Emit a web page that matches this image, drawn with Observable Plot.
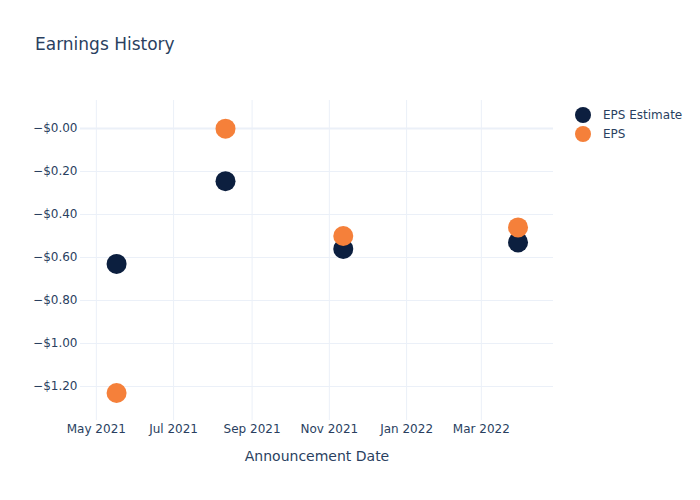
<!DOCTYPE html>
<html><head><meta charset="utf-8">
<script src="https://cdn.jsdelivr.net/npm/d3@7"></script>
<script src="https://cdn.jsdelivr.net/npm/@observablehq/plot@0.6"></script>
<style>
body{margin:0;background:#fff;font-family:"DejaVu Sans",sans-serif;}
#wrap{position:relative;width:700px;height:500px;overflow:hidden;}
#chart{position:absolute;left:0;top:0;}
#chart svg text{fill:#2a3f5f;}
#title{position:absolute;left:35px;top:36px;font-size:17px;line-height:17px;color:#2a3f5f;white-space:nowrap;}
.lg{position:absolute;left:574px;height:18px;line-height:18px;font-size:12px;color:#2a3f5f;white-space:nowrap;}
.lg svg{vertical-align:top;margin-right:11px;}
</style></head><body>
<div id="wrap"><div id="chart"></div><div id="title">Earnings History</div><div id="legend"></div></div>
<script>
const dates = ["2021-05-17","2021-08-11","2021-11-12","2022-03-30"];
const epsEstimate = [-0.63, -0.245, -0.56, -0.53];
const epsActual = [-1.23, -0.001, -0.50, -0.46];
const seriesNames = ["EPS Estimate", "EPS"];
const seriesColors = ["#0c1f3f", "#f5803a"];
const yTicks = [0, -0.2, -0.4, -0.6, -0.8, -1.0, -1.2];
const yTickLabels = ["−$0.00", "−$0.20", "−$0.40", "−$0.60", "−$0.80", "−$1.00", "−$1.20"];
const xTicks = ["2021-05-01", "2021-07-01", "2021-09-01", "2021-11-01", "2022-01-01", "2022-03-01"];
const xTickLabels = ["May 2021", "Jul 2021", "Sep 2021", "Nov 2021", "Jan 2022", "Mar 2022"];

const rows = [];
dates.forEach((d, i) => rows.push({date: new Date(d), value: epsEstimate[i], series: seriesNames[0]}));
dates.forEach((d, i) => rows.push({date: new Date(d), value: epsActual[i], series: seriesNames[1]}));
const xTickDates = xTicks.map(d => new Date(d));
const grid = "#ebf0f8";
const ink = "#2a3f5f";

const chart = Plot.plot({
  width: 700, height: 500,
  marginLeft: 80, marginRight: 147, marginTop: 100, marginBottom: 80,
  style: {fontFamily: "DejaVu Sans, sans-serif", fontSize: "12px", color: ink, background: "white"},
  x: {type: "utc", domain: [new Date("2021-04-18T12:00:00Z"), new Date("2022-04-27T00:00:00Z")]},
  y: {domain: [-1.358, 0.130]},
  color: {domain: seriesNames, range: seriesColors},
  marks: [
    Plot.gridX(xTickDates, {stroke: grid, strokeOpacity: 1, strokeWidth: 1}),
    Plot.gridY(yTicks, {stroke: grid, strokeOpacity: 1, strokeWidth: 1}),
    Plot.ruleY([0], {stroke: grid, strokeWidth: 2}),
    Plot.axisX(xTickDates, {tickSize: 0, tickPadding: 4, fontSize: 12, fill: ink,
      tickFormat: (d) => xTickLabels[xTickDates.findIndex(t => +t === +d)],
      label: "Announcement Date", labelAnchor: "center", labelArrow: "none", labelOffset: 40}),
    Plot.axisY(yTicks, {tickSize: 0, tickPadding: 3, fontSize: 12, fill: ink,
      tickFormat: (v) => yTickLabels[yTicks.indexOf(v)], label: null}),
    Plot.dot(rows, {x: "date", y: "value", fill: "series", r: 10, stroke: "none"})
  ]
});
chart.querySelectorAll('[aria-label="x-axis label"] text').forEach(t => {t.style.fontSize = "14px";});
document.getElementById("chart").appendChild(chart);

const legend = document.getElementById("legend");
seriesNames.forEach((name, i) => {
  const row = document.createElement("div");
  row.className = "lg";
  row.style.top = (106 + 19 * i) + "px";
  row.innerHTML = `<svg width="18" height="18"><circle cx="9" cy="9" r="8" fill="${seriesColors[i]}"></circle></svg>${name}`;
  legend.appendChild(row);
});
</script>
</body></html>
